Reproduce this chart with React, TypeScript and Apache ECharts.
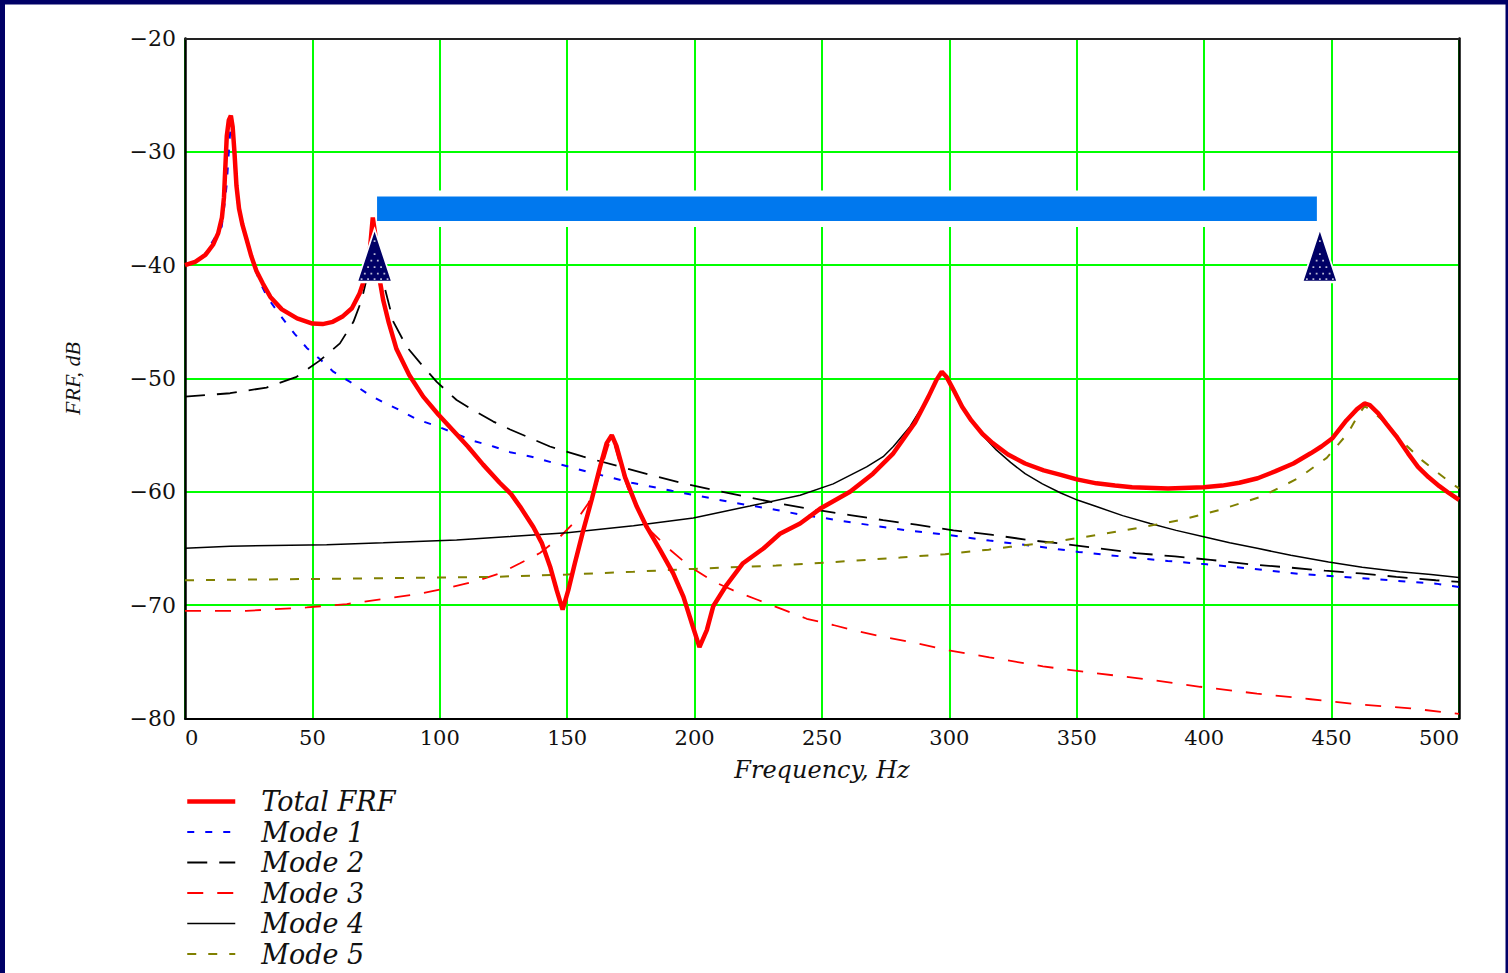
import React, { useEffect, useRef } from "react";
import * as echarts from "echarts";

// ---- Data (frequency in Hz, level in dB) ----
const totalFreq = [0, 4, 8, 11, 13, 14.5, 15.3, 15.8, 16.4, 17.2, 18.0, 18.7, 19.4, 20.2, 21.2, 22.5, 24, 26, 28, 30.5, 33.5, 38, 44, 50, 54, 58, 62, 65.5, 68.5, 70.8, 72.5, 73.7, 74.6, 75.8, 77.8, 80, 83, 88, 93.5, 99.5, 106.5, 111, 117, 123.5, 128, 131.5, 136.7, 140, 143.3, 145.9, 148.2, 150.4, 153, 156.3, 159.6, 162.9, 165.5, 167.5, 169.4, 172.7, 177.3, 181.2, 186.4, 191.6, 195.6, 198.9, 201.9, 204.8, 207.3, 212.6, 219, 227, 233.5, 241.4, 249.2, 261, 270, 278, 283, 286.5, 291.8, 295, 297, 299, 301.6, 305, 308.6, 313, 317, 323, 329.7, 337, 343.7, 350, 357.7, 365, 371.7, 385.8, 399.8, 407, 413.8, 421, 427.8, 435, 441.8, 446, 450.2, 455.8, 460, 462.9, 465, 468.4, 471.5, 475.4, 480, 483.9, 488, 492.3, 496, 500];
const totalDb = [-40.0, -39.7, -39.1, -38.2, -37.2, -35.8, -34.0, -31.5, -28.6, -27.2, -26.8, -27.8, -30.0, -33.0, -35.0, -36.4, -37.6, -39.2, -40.5, -41.6, -42.8, -43.9, -44.7, -45.15, -45.2, -45.0, -44.5, -43.8, -42.5, -41.0, -38.8, -35.8, -37.2, -40.5, -43.1, -45.1, -47.4, -49.7, -51.6, -53.2, -54.9, -56.0, -57.6, -59.2, -60.2, -61.3, -63.1, -64.5, -66.6, -68.7, -70.4, -68.7, -66.3, -63.4, -60.7, -57.8, -55.7, -55.0, -56.0, -58.7, -61.3, -63.1, -65.1, -67.2, -69.25, -71.6, -73.7, -72.2, -70.1, -68.2, -66.3, -65.0, -63.7, -62.8, -61.5, -60.0, -58.4, -56.6, -55.0, -53.9, -51.6, -50.1, -49.4, -49.9, -51.0, -52.5, -53.7, -54.9, -55.7, -56.7, -57.5, -58.1, -58.5, -58.9, -59.25, -59.45, -59.6, -59.7, -59.6, -59.45, -59.2, -58.8, -58.2, -57.5, -56.6, -56.0, -55.3, -53.7, -52.7, -52.2, -52.35, -53.1, -54.0, -55.1, -56.6, -57.8, -58.7, -59.5, -60.1, -60.7];

const mode1Freq = [0, 4, 7.2, 11.1, 14.4, 15.7, 16.4, 17.2, 17.8, 18.1, 18.6, 19.3, 20.2, 21.2, 22.9, 24.8, 26.8, 29.4, 32.5, 36, 40, 43.2, 47.8, 53, 58.2, 64.8, 71.3, 77.8, 84.4, 90.9, 98.8, 106.6, 113.2, 121, 127.6, 136, 143.9, 151, 159, 167.5, 175.3, 183.2, 191, 198.9, 207.3, 215.2, 224.4, 232.2, 241.4, 249.2, 258.4, 266.2, 274, 283.3, 299.5, 315.7, 333.9, 350.7, 367.5, 385.7, 401, 419.4, 437.6, 454.4, 472.6, 490.9, 500];
const mode1Db = [-40.0, -39.7, -39.25, -37.8, -36.6, -34.3, -32.8, -30.0, -28.0, -27.6, -28.3, -30.5, -33.5, -35.4, -36.9, -38.4, -39.9, -41.5, -42.9, -44.0, -45.2, -46.1, -47.3, -48.3, -49.4, -50.3, -51.3, -52.1, -52.8, -53.6, -54.2, -54.9, -55.5, -56.0, -56.5, -56.9, -57.4, -57.8, -58.3, -58.75, -59.2, -59.55, -59.9, -60.25, -60.6, -60.96, -61.3, -61.6, -62.0, -62.25, -62.6, -62.85, -63.1, -63.4, -63.8, -64.3, -64.8, -65.3, -65.7, -66.1, -66.4, -66.8, -67.25, -67.5, -67.8, -68.1, -68.4];

const mode2Freq = [0, 17.7, 32, 43.8, 53, 60.8, 66.1, 69.3, 71.5, 73, 74, 75, 76.5, 78.5, 81.8, 87, 92.2, 98.8, 106.6, 113.2, 121, 127.6, 143.2, 156.3, 169.4, 182.5, 195.6, 208.7, 221.7, 234.8, 247.9, 261, 274, 287, 301.6, 317, 331, 345, 359, 373, 388.5, 402.5, 418, 432, 447.4, 461.4, 475.4, 490.9, 500];
const mode2Db = [-51.6, -51.3, -50.8, -49.85, -48.4, -46.9, -45.0, -43.1, -41.0, -38.8, -36.8, -38.0, -40.2, -42.1, -45.0, -47.2, -48.6, -50.3, -51.9, -52.8, -53.8, -54.5, -56.0, -56.9, -57.7, -58.5, -59.25, -59.9, -60.5, -61.1, -61.6, -62.05, -62.5, -62.9, -63.4, -63.8, -64.25, -64.6, -65.0, -65.4, -65.7, -66.0, -66.4, -66.65, -66.96, -67.2, -67.5, -67.8, -67.95];

const mode3Freq = [0, 24, 47.8, 63.5, 79.5, 92.2, 102.7, 113.2, 123.6, 131.5, 139.3, 145.9, 153.7, 158.3, 161.6, 164, 166, 167.3, 168.7, 171, 174, 178, 182.5, 190.3, 198.2, 207.3, 215.2, 224.4, 234.8, 244, 254.4, 262.3, 274, 285.8, 298.8, 315.7, 336.7, 353.5, 376, 398.4, 420.7, 441.8, 462.8, 481, 500];
const mode3Db = [-70.5, -70.5, -70.2, -69.9, -69.4, -69.0, -68.5, -67.95, -67.2, -66.3, -65.4, -64.25, -62.5, -61.0, -59.25, -57.5, -56.0, -55.3, -56.0, -57.8, -59.8, -61.6, -63.4, -65.1, -66.6, -67.9, -68.7, -69.5, -70.4, -71.2, -71.75, -72.2, -72.8, -73.3, -73.95, -74.6, -75.4, -75.9, -76.5, -77.2, -77.8, -78.3, -78.8, -79.1, -79.6];

const mode4Freq = [0, 17.7, 55.6, 77.8, 106.6, 127.6, 150, 176, 199.5, 221.7, 241.4, 254.4, 267.5, 274, 278, 284.5, 288.5, 291.8, 294.5, 296.8, 299, 301.6, 305, 308.6, 313, 318.4, 324, 329.7, 336.5, 343.7, 350.5, 357.7, 368, 378.8, 389, 399.8, 410, 420.8, 434, 448.8, 462, 476.8, 489, 500];
const mode4Db = [-64.97, -64.8, -64.66, -64.5, -64.25, -63.95, -63.6, -63.0, -62.3, -61.25, -60.3, -59.3, -57.8, -56.9, -56.0, -54.25, -52.8, -51.6, -50.3, -49.4, -50.0, -51.0, -52.4, -53.7, -55.0, -56.3, -57.4, -58.4, -59.3, -60.1, -60.75, -61.3, -62.1, -62.8, -63.4, -63.96, -64.5, -64.98, -65.6, -66.2, -66.65, -67.05, -67.3, -67.55];

const mode5Freq = [0, 63.5, 121, 150, 176, 199.5, 232, 254.4, 280.6, 298.3, 315.4, 324, 341, 358.2, 373.7, 390.5, 406, 422.8, 436.9, 448.1, 456.5, 460.5, 463, 465.5, 471.4, 477, 485.4, 491, 498, 500];
const mode5Db = [-67.8, -67.66, -67.5, -67.3, -67.05, -66.8, -66.5, -66.2, -65.8, -65.5, -65.1, -64.85, -64.4, -63.8, -63.2, -62.5, -61.6, -60.4, -58.8, -57.0, -54.8, -53.2, -52.45, -52.8, -53.95, -55.4, -57.2, -58.2, -59.4, -59.7];

// Markers (triangles) and the highlighted band
const markerFreq = [74.4, 445.4];
const markerDb = [-39.15, -39.15];
const bandFreq = [74.2, 445.4];
const bandDb = [-33.68, -36.37];

const seriesNames = ["Total FRF", "Mode 1", "Mode 2", "Mode 3", "Mode 4", "Mode 5"];

const pairs = (f: number[], v: number[]) => f.map((x, i) => [x, v[i]]);

const TEXT = "#111111";
const NUM_FONT = "DejaVu Serif";

// Dotted texture for the triangle markers (a symbol path in a 35x53 box)
function dotPath(): string {
  const W = 35, H = 53;
  let d = "M0 0 h0.01 v0.01 h-0.01 Z M34.99 52.99 h0.01 v0.01 h-0.01 Z ";
  const rows = [12, 18.5, 25, 31.5, 38, 44.5, 50];
  rows.forEach((y, r) => {
    const hw = (W / 2) * (y / H) - 3;
    const off = r % 2 === 0 ? 0 : 3.25;
    for (let k = -4; k <= 4; k++) {
      const x = W / 2 + k * 6.5 + off;
      if (Math.abs(x - W / 2) <= hw) {
        d += `M${(x - 0.9).toFixed(2)} ${(y - 0.9).toFixed(2)} h1.8 v1.8 h-1.8 Z `;
      }
    }
  });
  return "path://" + d;
}

function lineSeries(name: string, f: number[], v: number[], color: string, width: number, type: any, z: number) {
  return {
    name,
    type: "line",
    data: pairs(f, v),
    symbol: "none",
    showSymbol: false,
    color,
    z,
    lineStyle: { color, width, type },
    emphasis: { disabled: true },
  };
}

export default function App() {
  const ref = useRef<HTMLDivElement>(null);
  useEffect(() => {
    if (!ref.current) return;
    const chart = echarts.init(ref.current, null, { renderer: "svg" });
    const option: any = {
      animation: false,
      backgroundColor: "#ffffff",
      grid: { left: 185, right: 49, top: 38.5, bottom: 254.5, containLabel: false },
      legend: {
        data: seriesNames,
        orient: "vertical",
        left: 185,
        top: 788,
        padding: 0,
        itemWidth: 48,
        itemHeight: 2,
        itemGap: 3.5,
        selectedMode: false,
        itemStyle: { opacity: 0 },
        lineStyle: { width: "inherit" },
        textStyle: {
          fontFamily: NUM_FONT,
          fontStyle: "italic",
          fontSize: 27,
          color: TEXT,
          lineHeight: 26,
          padding: [0, 0, 0, 21],
        },
      },
      xAxis: [
        {
          type: "value",
          position: "bottom",
          min: 0,
          max: 500,
          interval: 50,
          name: "Frequency, Hz",
          nameLocation: "middle",
          nameGap: 39,
          nameTextStyle: { fontFamily: NUM_FONT, fontStyle: "italic", fontSize: 24, color: TEXT },
          axisLine: { show: true, onZero: false, lineStyle: { color: "#000", width: 2 } },
          axisTick: { show: false },
          axisLabel: {
            fontFamily: NUM_FONT,
            fontSize: 21,
            color: TEXT,
            margin: 9,
            alignMinLabel: "left",
            alignMaxLabel: "right",
          },
          splitLine: { show: true, lineStyle: { color: "#00ff00", width: 2 } },
        },
        {
          type: "value",
          position: "top",
          min: 0,
          max: 500,
          interval: 50,
          axisLine: { show: true, onZero: false, lineStyle: { color: "#222", width: 2 } },
          axisTick: { show: false },
          axisLabel: { show: false },
          splitLine: { show: false },
        },
      ],
      yAxis: [
        {
          type: "value",
          position: "left",
          min: -80,
          max: -20,
          interval: 10,
          name: "FRF, dB",
          nameLocation: "middle",
          nameGap: 102,
          nameRotate: 90,
          nameTextStyle: { fontFamily: "Liberation Serif", fontStyle: "italic", fontSize: 22, color: TEXT },
          axisLine: { show: true, onZero: false, lineStyle: { color: "#000", width: 2.5 } },
          axisTick: { show: false },
          axisLabel: {
            fontFamily: NUM_FONT,
            fontSize: 22,
            color: TEXT,
            margin: 9,
            formatter: (v: number) => (v < 0 ? "\u2212" + Math.abs(v) : String(v)),
          },
          splitLine: { show: true, lineStyle: { color: "#00ff00", width: 2 } },
        },
        {
          type: "value",
          position: "right",
          min: -80,
          max: -20,
          interval: 10,
          axisLine: { show: true, onZero: false, lineStyle: { color: "#000", width: 2.5 } },
          axisTick: { show: false },
          axisLabel: { show: false },
          splitLine: { show: false },
        },
      ],
      series: [
        lineSeries("Mode 1", mode1Freq, mode1Db, "#0000ff", 2, [7, 11], 3),
        lineSeries("Mode 2", mode2Freq, mode2Db, "#000000", 1.8, [20, 12], 3),
        lineSeries("Mode 3", mode3Freq, mode3Db, "#ff0000", 1.8, [16, 14], 3),
        lineSeries("Mode 4", mode4Freq, mode4Db, "#000000", 1.5, "solid", 3),
        lineSeries("Mode 5", mode5Freq, mode5Db, "#808000", 2, [9, 12], 3),
        lineSeries("Total FRF", totalFreq, totalDb, "#ff0000", 4.5, "solid", 4),
        {
          name: "markers",
          type: "scatter",
          z: 6,
          data: pairs(markerFreq, markerDb),
          symbol: "triangle",
          symbolSize: [35, 53],
          silent: true,
          itemStyle: { color: "#000066", opacity: 1, borderColor: "#ffffff", borderWidth: 2 },
          markArea: {
            silent: true,
            label: { show: false },
            itemStyle: { color: "#0078ee", opacity: 1, borderColor: "#ffffff", borderWidth: 6 },
            data: [[{ coord: [bandFreq[0], bandDb[0]] }, { coord: [bandFreq[1], bandDb[1]] }]],
          },
        },
        {
          name: "markerDots",
          type: "scatter",
          z: 7,
          data: pairs(markerFreq, markerDb),
          symbol: dotPath(),
          symbolSize: [35, 53],
          silent: true,
          itemStyle: { color: "rgba(205,205,225,0.9)", opacity: 1 },
        },
      ],
      graphic: [
        { type: "rect", left: 0, top: 0, shape: { width: 1508, height: 4.5 }, style: { fill: "#000066" }, silent: true },
        { type: "rect", left: 0, top: 0, shape: { width: 5, height: 973 }, style: { fill: "#000066" }, silent: true },
        { type: "rect", right: 0, top: 0, shape: { width: 2.5, height: 973 }, style: { fill: "#000066" }, silent: true },
      ],
    };
    chart.setOption(option);
    return () => chart.dispose();
  }, []);
  return (
    <div
      ref={ref}
      style={{ position: "absolute", left: 0, top: 0, width: 1508, height: 973, background: "#ffffff" }}
    />
  );
}
